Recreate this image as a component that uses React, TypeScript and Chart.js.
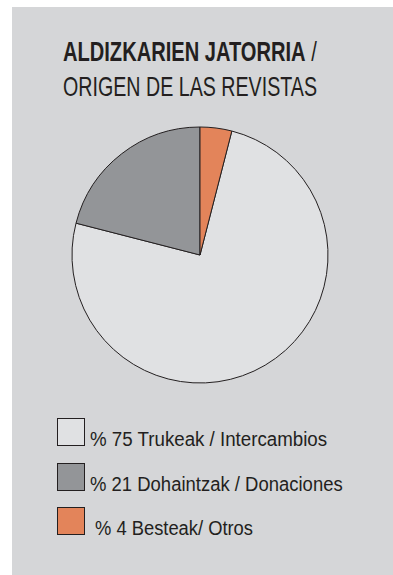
import React, { useEffect, useLayoutEffect, useRef } from 'react';
import { Chart, registerables } from 'chart.js';

Chart.register(...registerables);

// ---- data ----
const titleBold = 'ALDIZKARIEN JATORRIA';
const titleSlash = ' /';
const titleLine2 = 'ORIGEN DE LAS REVISTAS';
const categories = ['Trukeak / Intercambios', 'Dohaintzak / Donaciones', 'Besteak/ Otros'];
const percentages = [75, 21, 4];
const sliceColors = ['#e0e1e3', '#939598', '#e3845a'];

// ---- layout ----
const FONT = '"Liberation Sans Narrow", "Liberation Sans", Arial, sans-serif';
const INK = '#231f20';
const legendTextWidths = [237, 253, 158];
const legendTextOffsets = [0, 0, 5];
const legendRowTops = [418, 463, 507];

function FitText({ width, style, children }: { width: number; style?: React.CSSProperties; children: React.ReactNode }) {
  const ref = useRef<HTMLSpanElement>(null);
  useLayoutEffect(() => {
    const el = ref.current;
    if (!el) return;
    el.style.transform = 'none';
    const w = el.offsetWidth;
    if (w > 0) el.style.transform = `scaleX(${width / w})`;
  }, [width]);
  return (
    <span
      ref={ref}
      style={{ display: 'inline-block', whiteSpace: 'pre', transformOrigin: '0 0', ...style }}
    >
      {children}
    </span>
  );
}

export default function App() {
  const canvasRef = useRef<HTMLCanvasElement>(null);

  useEffect(() => {
    const canvas = canvasRef.current;
    if (!canvas) return;
    const total = percentages.reduce((a, b) => a + b, 0);
    const last = percentages[percentages.length - 1];
    const chart = new Chart(canvas, {
      type: 'pie',
      data: {
        labels: categories,
        datasets: [
          {
            data: percentages,
            backgroundColor: sliceColors,
            borderColor: INK,
            borderWidth: 1,
            radius: 128,
          } as any,
        ],
      },
      options: {
        responsive: false,
        animation: false,
        rotation: (360 * last) / total,
        layout: { padding: 0 },
        plugins: {
          legend: { display: false },
          tooltip: { enabled: false },
          title: { display: false },
        },
      },
    });
    return () => chart.destroy();
  }, []);

  return (
    <div style={{ position: 'absolute', left: 0, top: 0, width: 393, height: 575, overflow: 'hidden', background: '#ffffff' }}>
      <div style={{ position: 'absolute', left: 12, top: 7, width: 381, height: 568, background: '#d5d6d8' }} />
      <div style={{ position: 'absolute', left: 63, top: 38, fontFamily: FONT, fontSize: 28, lineHeight: '28px', color: INK }}>
        <FitText width={254}>
          <span style={{ fontWeight: 700 }}>{titleBold}</span>
          <span style={{ fontWeight: 400 }}>{titleSlash}</span>
        </FitText>
      </div>
      <div style={{ position: 'absolute', left: 63, top: 73, fontFamily: FONT, fontSize: 28, lineHeight: '28px', color: INK }}>
        <FitText width={254}>{titleLine2}</FitText>
      </div>
      <canvas
        ref={canvasRef}
        width={280}
        height={280}
        style={{ position: 'absolute', left: 60, top: 115, width: 280, height: 280 }}
      />
      {categories.map((cat, i) => (
        <React.Fragment key={cat}>
          <div
            style={{
              position: 'absolute',
              left: 57,
              top: legendRowTops[i],
              width: 28,
              height: 28,
              boxSizing: 'border-box',
              border: `1.5px solid ${INK}`,
              background: sliceColors[i],
            }}
          />
          <div
            style={{
              position: 'absolute',
              left: 90 + legendTextOffsets[i],
              top: legendRowTops[i] + 28 - 17,
              fontFamily: FONT,
              fontSize: 19.5,
              lineHeight: '20px',
              color: INK,
            }}
          >
            <FitText width={legendTextWidths[i]}>{`% ${percentages[i]} ${cat}`}</FitText>
          </div>
        </React.Fragment>
      ))}
    </div>
  );
}
